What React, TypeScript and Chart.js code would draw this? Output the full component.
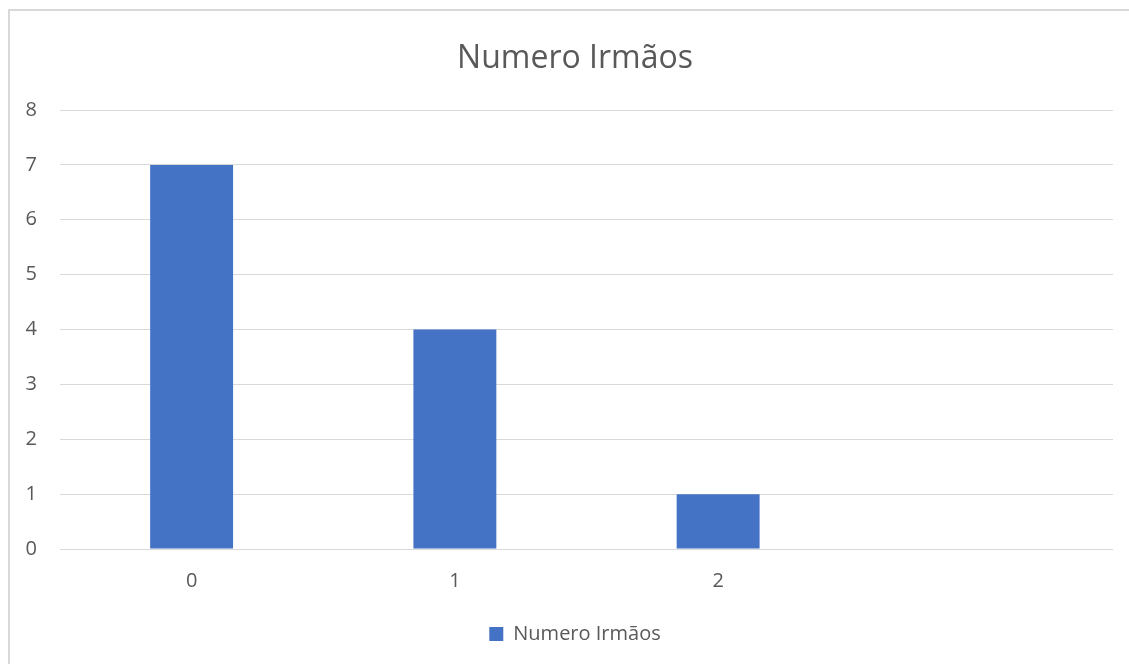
import React, { useEffect, useRef } from "react";
import { Chart, registerables } from "chart.js";

Chart.register(...registerables);

const categories: string[] = ["0", "1", "2", ""];
const seriesName = "Numero Irmãos";
const seriesValues: (number | null)[] = [7, 4, 1, null];
const chartTitle = "Numero Irmãos";
const yTicks: number[] = [0, 1, 2, 3, 4, 5, 6, 7, 8];

const FONT = "'Open Sans', 'Noto Sans', sans-serif";
const TEXT = "#595959";

export default function App() {
  const ref = useRef<HTMLCanvasElement | null>(null);

  useEffect(() => {
    if (!ref.current) return;
    const chart = new Chart(ref.current, {
      type: "bar",
      data: {
        labels: categories,
        datasets: [
          {
            label: seriesName,
            data: seriesValues,
            backgroundColor: "#4472C4",
            borderWidth: 0,
            barPercentage: 0.315,
            categoryPercentage: 1,
          },
        ],
      },
      options: {
        responsive: false,
        animation: false,
        maintainAspectRatio: false,
        layout: { padding: { left: 0, right: 0, top: 0, bottom: 10 } },
        plugins: {
          title: {
            display: true,
            text: chartTitle,
            color: TEXT,
            font: { family: FONT, size: 32, weight: "normal" },
            padding: { top: 40, bottom: 31.6 },
          },
          legend: {
            display: true,
            position: "bottom",
            labels: {
              color: TEXT,
              font: { family: FONT, size: 20 },
              boxWidth: 14,
              boxHeight: 14,
              padding: 10,
            },
          },
          tooltip: { enabled: false },
        },
        scales: {
          x: {
            grid: { display: false, drawTicks: false },
            border: { display: false },
            ticks: { color: TEXT, font: { family: FONT, size: 20 }, padding: 20 },
            afterFit: (scale: any) => {
              scale.height = 65;
            },
          },
          y: {
            min: 0,
            max: 8,
            afterBuildTicks: (scale: any) => {
              scale.ticks = yTicks.map((v) => ({ value: v }));
            },
            afterFit: (scale: any) => {
              scale.width = 60;
            },
            grid: { color: "#d9d9d9", lineWidth: 1, drawTicks: false },
            border: { display: false },
            ticks: { color: TEXT, font: { family: FONT, size: 20 }, padding: 23, stepSize: 1 },
          },
          yRight: {
            position: "right",
            display: true,
            min: 0,
            max: 8,
            grid: { display: false, drawTicks: false },
            border: { display: false },
            ticks: { display: false },
            afterFit: (scale: any) => {
              scale.width = 37;
            },
          },
        },
      },
    });
    return () => chart.destroy();
  }, []);

  return (
    <div
      style={{
        position: "fixed",
        left: 0,
        top: 0,
        width: 1129,
        height: 664,
        overflow: "hidden",
        background: "#fff",
      }}
    >
      <div
        style={{
          position: "absolute",
          left: 8,
          top: 9,
          width: 1300,
          height: 900,
          border: "2px solid #d9d9d9",
        }}
      />
      <canvas
        ref={ref}
        width={1150}
        height={664}
        style={{ position: "absolute", left: 0, top: 0, width: 1150, height: 664 }}
      />
    </div>
  );
}
